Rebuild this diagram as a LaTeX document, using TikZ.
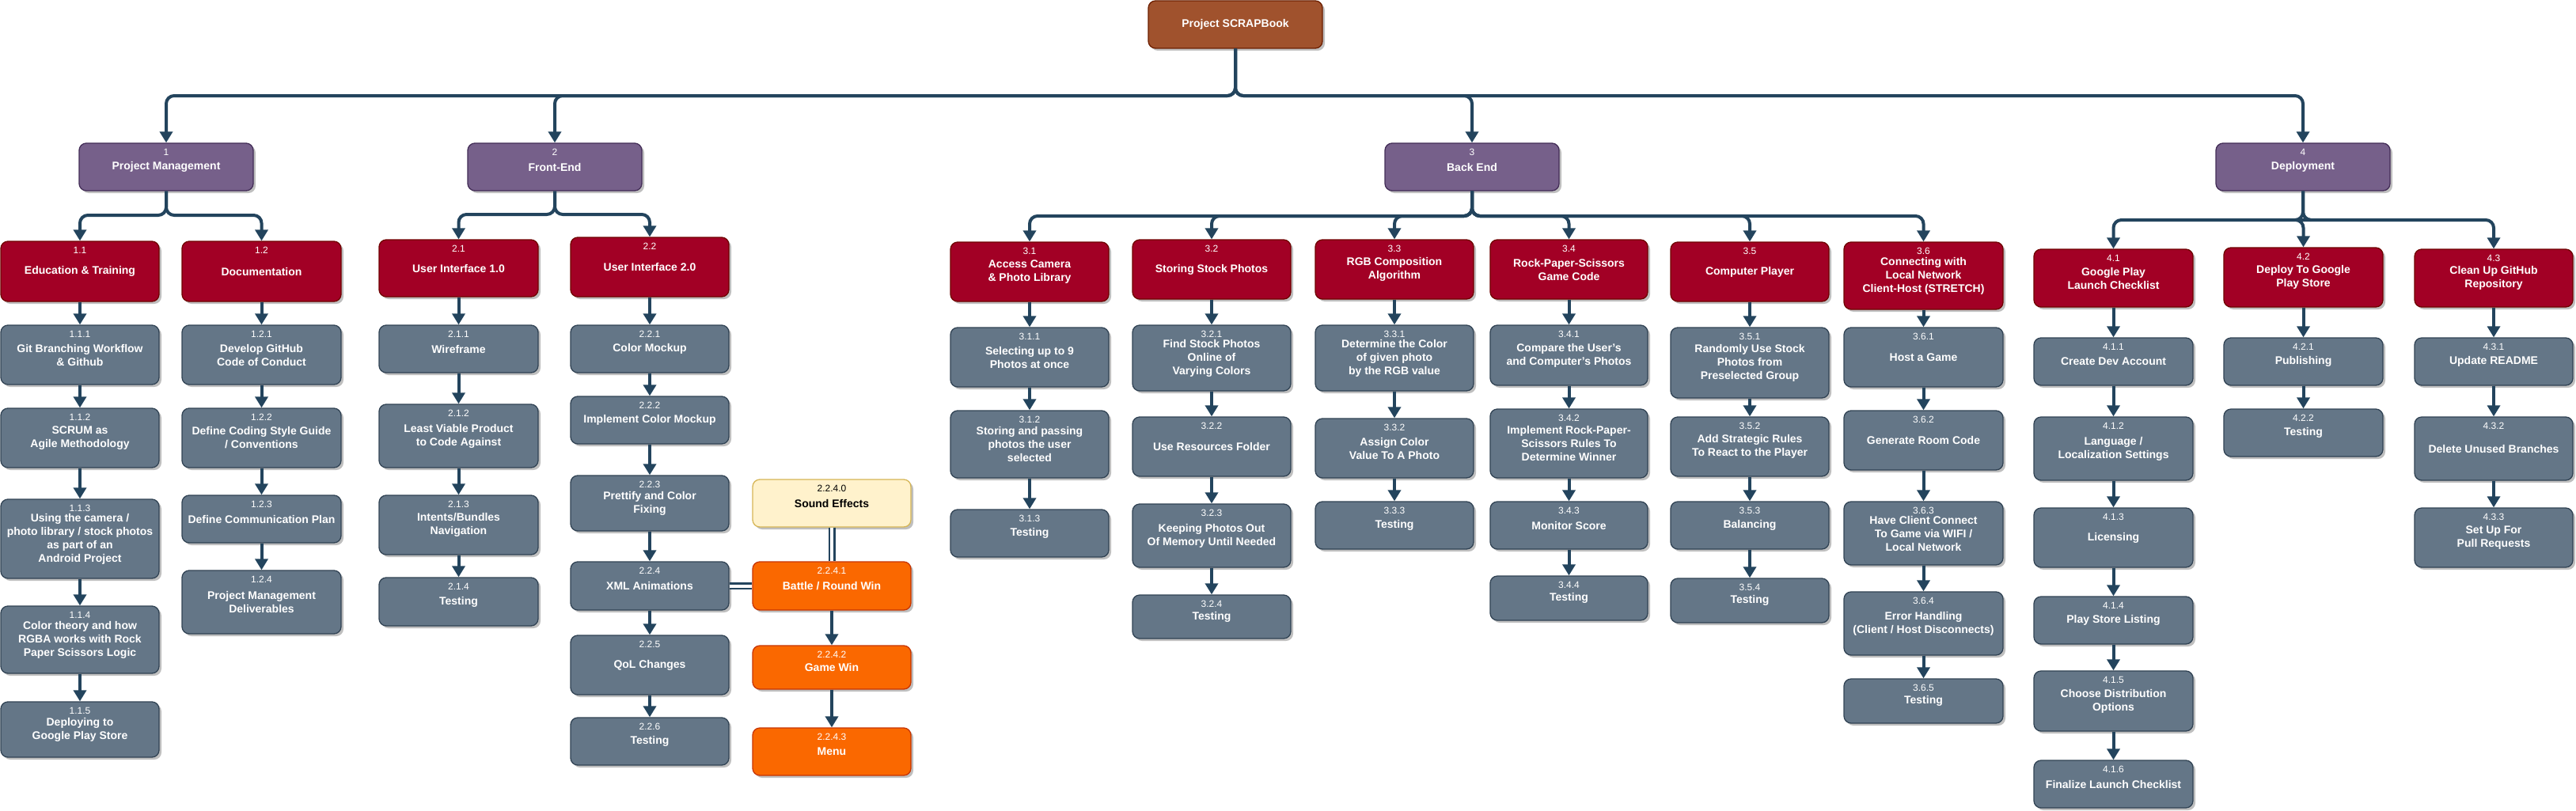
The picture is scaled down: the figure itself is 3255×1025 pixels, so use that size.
\documentclass[tikz,border=0pt]{standalone}
\usepackage{fontspec}
\setmainfont{Liberation Sans}
\usetikzlibrary{arrows.meta,shadows}
\definecolor{cRoot}{HTML}{A0522D}\definecolor{cRootD}{HTML}{6D1F00}
\definecolor{cPur}{HTML}{76608A}\definecolor{cPurD}{HTML}{432D57}
\definecolor{cRed}{HTML}{A20025}\definecolor{cRedD}{HTML}{6F0000}
\definecolor{cSla}{HTML}{647687}\definecolor{cSlaD}{HTML}{314354}
\definecolor{cYel}{HTML}{FFF2CC}\definecolor{cYelD}{HTML}{D6B656}
\definecolor{cOrg}{HTML}{FA6800}\definecolor{cOrgD}{HTML}{C73500}
\definecolor{cLine}{HTML}{23445D}
\tikzset{
 wbase/.style={rectangle, rounded corners=9pt, line width=1.3pt, align=center, inner sep=0pt,
   text=white, font=\fontsize{14}{17}\selectfont\bfseries,
   drop shadow={shadow xshift=3pt, shadow yshift=-3pt, opacity=0.25, fill=black}},
 wroot/.style={wbase, fill=cRoot, draw=cRootD},
 wlone/.style={wbase, fill=cPur, draw=cPurD},
 wltwo/.style={wbase, fill=cRed, draw=cRedD},
 wlthree/.style={wbase, fill=cSla, draw=cSlaD},
 wsnd/.style={wbase, fill=cYel, draw=cYelD, text=black},
 worg/.style={wbase, fill=cOrg, draw=cOrgD},
 wnum/.style={font=\fontsize{12}{14}\selectfont, anchor=base, inner sep=0pt},
 conn/.style={draw=cLine, line width=4pt, rounded corners=10pt, -{Triangle[width=16pt,length=14pt]}},
 wlink/.style={draw=cLine, line width=2.5pt, double=white, double distance=4pt},
}
\newcommand\wbsbox[9][white]{%
 \node[#3, minimum width={(#6-#4)*1pt}, minimum height={(#7-#5)*1pt}] (#2) at ({(#4+#6)/2},{(#5+#7)/2}) {#9};
 \node[wnum, text=#1] at ({(#4+#6)/2},{#5+15.5}) {#8};
}
\begin{document}
\begin{tikzpicture}[x=1pt,y=-1pt]
\fill[white] (0,0) rectangle (3255,1025);
\useasboundingbox (0,0) rectangle (3255,1025);
% root
\node[wroot, minimum width=220pt, minimum height=60pt] (root) at (1561,31) {Project SCRAPBook};
% level 1
\wbsbox{p1}{wlone}{100}{181}{320}{241}{1}{Project Management}
\wbsbox{p2}{wlone}{591}{181}{811}{241}{2}{Front-End}
\wbsbox{p3}{wlone}{1750}{181}{1970}{241}{3}{Back End}
\wbsbox{p4}{wlone}{2800}{181}{3020}{241}{4}{Deployment}
% level 2
\wbsbox{p11}{wltwo}{1}{305}{201}{381}{1.1}{Education \& Training}
\wbsbox{p12}{wltwo}{230}{305}{431}{381}{1.2}{Documentation}
\wbsbox{p21}{wltwo}{479}{303}{680}{375}{2.1}{User Interface 1.0}
\wbsbox{p22}{wltwo}{721}{300}{921}{375}{2.2}{User Interface 2.0}
\wbsbox{p31}{wltwo}{1201}{306}{1401}{381}{3.1}{Access Camera\\\& Photo Library}
\wbsbox{p32}{wltwo}{1431}{303}{1631}{378}{3.2}{Storing Stock Photos}
\wbsbox{p33}{wltwo}{1662}{303}{1862}{378}{3.3}{RGB Composition\\Algorithm}
\wbsbox{p34}{wltwo}{1883}{303}{2082}{378}{3.4}{Rock-Paper-Scissors\\Game Code}
\wbsbox{p35}{wltwo}{2111}{306}{2311}{381}{3.5}{Computer Player}
\wbsbox{p36}{wltwo}{2330}{306}{2531}{391}{3.6}{Connecting with\\Local Network\\Client-Host (STRETCH)}
\wbsbox{p41}{wltwo}{2570}{315}{2771}{388}{4.1}{Google Play\\Launch Checklist}
\wbsbox{p42}{wltwo}{2810}{313}{3011}{388}{4.2}{Deploy To Google\\Play Store}
\wbsbox{p43}{wltwo}{3051}{315}{3251}{388}{4.3}{Clean Up GitHub\\Repository}
% level 3 : 1
\wbsbox{p111}{wlthree}{1}{411}{201}{486}{1.1.1}{Git Branching Workflow\\\& Github}
\wbsbox{p112}{wlthree}{1}{516}{201}{591}{1.1.2}{SCRUM as\\Agile Methodology}
\wbsbox{p113}{wlthree}{1}{631}{201}{731}{1.1.3}{Using the camera /\\photo library / stock photos\\as part of an\\Android Project}
\wbsbox{p114}{wlthree}{1}{766}{201}{851}{1.1.4}{Color theory and how\\RGBA works with Rock\\Paper Scissors Logic}
\wbsbox{p115}{wlthree}{1}{887}{201}{957}{1.1.5}{Deploying to\\Google Play Store}
\wbsbox{p121}{wlthree}{230}{411}{431}{486}{1.2.1}{Develop GitHub\\Code of Conduct}
\wbsbox{p122}{wlthree}{230}{516}{431}{591}{1.2.2}{Define Coding Style Guide\\/ Conventions}
\wbsbox{p123}{wlthree}{230}{626}{431}{686}{1.2.3}{Define Communication Plan}
\wbsbox{p124}{wlthree}{230}{721}{431}{801}{1.2.4}{Project Management\\Deliverables}
% 2
\wbsbox{p211}{wlthree}{479}{411}{680}{471}{2.1.1}{Wireframe}
\wbsbox{p212}{wlthree}{479}{511}{680}{591}{2.1.2}{Least Viable Product\\to Code Against}
\wbsbox{p213}{wlthree}{479}{626}{680}{701}{2.1.3}{Intents/Bundles\\Navigation}
\wbsbox{p214}{wlthree}{479}{730}{680}{791}{2.1.4}{Testing}
\wbsbox{p221}{wlthree}{721}{411}{921}{471}{2.2.1}{Color Mockup}
\wbsbox{p222}{wlthree}{721}{501}{921}{561}{2.2.2}{Implement Color Mockup}
\wbsbox{p223}{wlthree}{721}{601}{921}{671}{2.2.3}{Prettify and Color\\Fixing}
\wbsbox{p224}{wlthree}{721}{710}{921}{771}{2.2.4}{XML Animations}
\wbsbox{p225}{wlthree}{721}{803}{921}{878}{2.2.5}{QoL Changes}
\wbsbox{p226}{wlthree}{721}{907}{921}{967}{2.2.6}{Testing}
\wbsbox[black]{snd}{wsnd}{951}{606}{1151}{666}{2.2.4.0}{Sound Effects}
\wbsbox{p2241}{worg}{951}{710}{1151}{771}{2.2.4.1}{Battle / Round Win}
\wbsbox{p2242}{worg}{951}{816}{1151}{871}{2.2.4.2}{Game Win}
\wbsbox{p2243}{worg}{951}{920}{1151}{980}{2.2.4.3}{Menu}
% 3
\wbsbox{p311}{wlthree}{1201}{414}{1401}{489}{3.1.1}{Selecting up to 9\\Photos at once}
\wbsbox{p312}{wlthree}{1201}{519}{1401}{604}{3.1.2}{Storing and passing\\photos the user\\selected}
\wbsbox{p313}{wlthree}{1201}{644}{1401}{704}{3.1.3}{Testing}
\wbsbox{p321}{wlthree}{1431}{411}{1631}{494}{3.2.1}{Find Stock Photos\\Online of\\Varying Colors}
\wbsbox{p322}{wlthree}{1431}{527}{1631}{602}{3.2.2}{Use Resources Folder}
\wbsbox{p323}{wlthree}{1431}{637}{1631}{717}{3.2.3}{Keeping Photos Out\\Of Memory Until Needed}
\wbsbox{p324}{wlthree}{1431}{752}{1631}{807}{3.2.4}{Testing}
\wbsbox{p331}{wlthree}{1662}{411}{1862}{494}{3.3.1}{Determine the Color\\of given photo\\by the RGB value}
\wbsbox{p332}{wlthree}{1662}{529}{1862}{604}{3.3.2}{Assign Color\\Value To A Photo}
\wbsbox{p333}{wlthree}{1662}{634}{1862}{694}{3.3.3}{Testing}
\wbsbox{p341}{wlthree}{1883}{411}{2082}{487}{3.4.1}{Compare the User's\\and Computer's Photos}
\wbsbox{p342}{wlthree}{1883}{517}{2082}{604}{3.4.2}{Implement Rock-Paper-\\Scissors Rules To\\Determine Winner}
\wbsbox{p343}{wlthree}{1883}{634}{2082}{694}{3.4.3}{Monitor Score}
\wbsbox{p344}{wlthree}{1883}{728}{2082}{784}{3.4.4}{Testing}
\wbsbox{p351}{wlthree}{2111}{414}{2311}{503}{3.5.1}{Randomly Use Stock\\Photos from\\Preselected Group}
\wbsbox{p352}{wlthree}{2111}{527}{2311}{602}{3.5.2}{Add Strategic Rules\\To React to the Player}
\wbsbox{p353}{wlthree}{2111}{634}{2311}{694}{3.5.3}{Balancing}
\wbsbox{p354}{wlthree}{2111}{731}{2311}{787}{3.5.4}{Testing}
\wbsbox{p361}{wlthree}{2330}{414}{2531}{489}{3.6.1}{Host a Game}
\wbsbox{p362}{wlthree}{2330}{519}{2531}{594}{3.6.2}{Generate Room Code}
\wbsbox{p363}{wlthree}{2330}{634}{2531}{714}{3.6.3}{Have Client Connect\\To Game via WIFI /\\Local Network}
\wbsbox{p364}{wlthree}{2330}{748}{2531}{828}{3.6.4}{Error Handling\\(Client / Host Disconnects)}
\wbsbox{p365}{wlthree}{2330}{858}{2531}{914}{3.6.5}{Testing}
% 4
\wbsbox{p411}{wlthree}{2570}{427}{2771}{487}{4.1.1}{Create Dev Account}
\wbsbox{p412}{wlthree}{2570}{527}{2771}{607}{4.1.2}{Language /\\Localization Settings}
\wbsbox{p413}{wlthree}{2570}{642}{2771}{717}{4.1.3}{Licensing}
\wbsbox{p414}{wlthree}{2570}{754}{2771}{814}{4.1.4}{Play Store Listing}
\wbsbox{p415}{wlthree}{2570}{848}{2771}{924}{4.1.5}{Choose Distribution\\Options}
\wbsbox{p416}{wlthree}{2570}{961}{2771}{1021}{4.1.6}{Finalize Launch Checklist}
\wbsbox{p421}{wlthree}{2810}{427}{3011}{487}{4.2.1}{Publishing}
\wbsbox{p422}{wlthree}{2810}{517}{3011}{577}{4.2.2}{Testing}
\wbsbox{p431}{wlthree}{3051}{427}{3251}{487}{4.3.1}{Update README}
\wbsbox{p432}{wlthree}{3051}{527}{3251}{607}{4.3.2}{Delete Unused Branches}
\wbsbox{p433}{wlthree}{3051}{642}{3251}{717}{4.3.3}{Set Up For\\Pull Requests}
% buses
\coordinate (b0) at (0,121);
\coordinate (b1) at (0,272);
\coordinate (b2) at (0,271);
\coordinate (b3) at (0,273);
\coordinate (b4) at (0,278);
\foreach \c in {p1,p2,p3,p4} {\draw[conn] (root.south) -- (root.south |- b0) -| (\c.north);}
\foreach \c in {p11,p12} {\draw[conn] (p1.south) -- (p1.south |- b1) -| (\c.north);}
\foreach \c in {p21,p22} {\draw[conn] (p2.south) -- (p2.south |- b2) -| (\c.north);}
\foreach \c in {p31,p32,p33,p34,p35,p36} {\draw[conn] (p3.south) -- (p3.south |- b3) -| (\c.north);}
\foreach \c in {p41,p42,p43} {\draw[conn] (p4.south) -- (p4.south |- b4) -| (\c.north);}
% chains
\foreach \a/\b in {p11/p111,p111/p112,p112/p113,p113/p114,p114/p115,
  p12/p121,p121/p122,p122/p123,p123/p124,
  p21/p211,p211/p212,p212/p213,p213/p214,
  p22/p221,p221/p222,p222/p223,p223/p224,p224/p225,p225/p226,
  p2241/p2242,p2242/p2243,
  p31/p311,p311/p312,p312/p313,
  p32/p321,p321/p322,p322/p323,p323/p324,
  p33/p331,p331/p332,p332/p333,
  p34/p341,p341/p342,p342/p343,p343/p344,
  p35/p351,p351/p352,p352/p353,p353/p354,
  p36/p361,p361/p362,p362/p363,p363/p364,p364/p365,
  p41/p411,p411/p412,p412/p413,p413/p414,p414/p415,p415/p416,
  p42/p421,p421/p422,
  p43/p431,p431/p432,p432/p433}
  {\draw[conn] (\a.south) -- (\b.north);}
% links
\draw[wlink] (p224.east) -- (p2241.west);
\draw[wlink] (snd.south) -- (p2241.north);
\end{tikzpicture}
\end{document}
